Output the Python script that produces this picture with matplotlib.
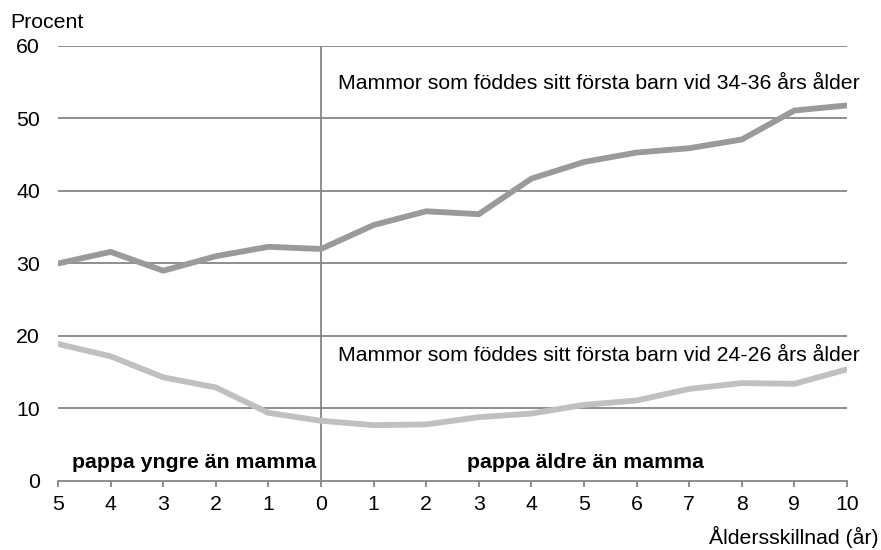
import matplotlib
matplotlib.use('Agg')
import matplotlib.pyplot as plt
import numpy as np

plt.rcParams['font.family'] = ['Liberation Sans', 'DejaVu Sans']

# age difference: negative = pappa younger
age_diff = list(range(-5, 11))
tick_labels = [str(abs(v)) for v in age_diff]

mothers_34_36 = [30.0, 31.6, 29.0, 31.0, 32.3, 32.0, 35.3, 37.2, 36.8, 41.7,
                 44.0, 45.3, 45.9, 47.1, 51.1, 51.8]
mothers_24_26 = [18.9, 17.2, 14.3, 12.9, 9.4, 8.3, 7.7, 7.8, 8.8, 9.3,
                 10.5, 11.1, 12.7, 13.5, 13.4, 15.4]

label_upper = 'Mammor som föddes sitt första barn vid 34-36 års ålder'
label_lower = 'Mammor som föddes sitt första barn vid 24-26 års ålder'

GRID = '#868686'
FS = 15.3

fig = plt.figure(figsize=(8.81, 5.5), dpi=100)
ax = fig.add_axes([0.0658, 0.1255, 0.8956, 0.7909])

for yv in range(10, 61, 10):
    ax.axhline(yv, color=GRID, lw=1.3, zorder=1)
ax.axvline(0, color=GRID, lw=1.3, zorder=1)

ax.plot(age_diff, mothers_34_36, color='#9a9a9a', lw=4.2, zorder=3,
        solid_joinstyle='miter')
ax.plot(age_diff, mothers_24_26, color='#c0c0c0', lw=4.2, zorder=3,
        solid_joinstyle='miter')

ax.set_xlim(-5, 10)
ax.set_ylim(0, 60)
ax.set_xticks(age_diff)
ax.set_xticklabels(tick_labels, fontsize=FS)
ax.set_yticks(range(0, 61, 10))
ax.set_yticklabels([str(v) for v in range(0, 61, 10)], fontsize=FS)
ax.tick_params(axis='y', length=0, pad=13)
ax.tick_params(axis='x', length=4, color=GRID, width=1.3, pad=6)

for s in ['top', 'right', 'left']:
    ax.spines[s].set_visible(False)
ax.spines['bottom'].set_color(GRID)
ax.spines['bottom'].set_linewidth(1.3)

ax.text(0.33, 54.8, label_upper, fontsize=FS, ha='left', va='center')
ax.text(0.33, 17.3, label_lower, fontsize=FS, ha='left', va='center')
ax.text(-4.73, 2.5, 'pappa yngre än mamma', fontsize=FS, fontweight='bold',
        ha='left', va='center')
ax.text(2.78, 2.5, 'pappa äldre än mamma', fontsize=FS, fontweight='bold',
        ha='left', va='center')

fig.text(10 / 881, 1 - 23 / 550, 'Procent', fontsize=FS, ha='left', va='center')
fig.text(879 / 881, 1 - 537 / 550, 'Åldersskillnad (år)', fontsize=FS,
         ha='right', va='center')

fig.savefig('out.png', dpi=100, facecolor='white')
